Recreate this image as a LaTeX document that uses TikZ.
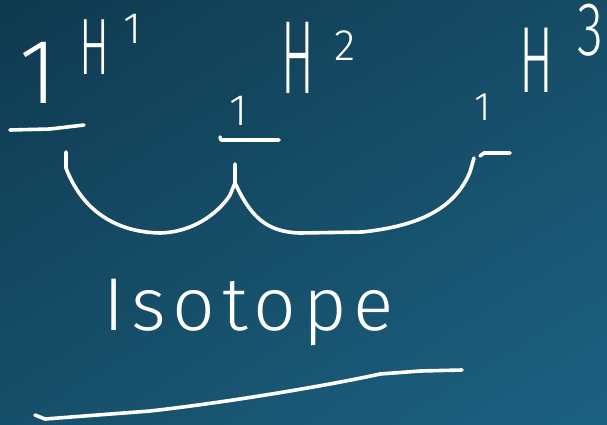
\documentclass[tikz,border=0pt]{standalone}
\usepackage{fontspec}
\usepackage{tikz}
\usetikzlibrary{shadings}
\newfontfamily\handfont{Fira Sans Light}
\newfontfamily\handwide{Fira Sans Light}[LetterSpace=9]
\newcommand{\slimglyph}[2][0.5]{\scalebox{#1}[1]{#2}}
\definecolor{boardtl}{HTML}{0F3A50}
\definecolor{boardtr}{HTML}{164C66}
\definecolor{boardbl}{HTML}{164F69}
\definecolor{boardbr}{HTML}{1C6182}
\tikzset{
  ink/.style={draw=white, line width=3.6pt, line cap=round, line join=round},
  glyph/.style={text=white, inner sep=0pt, anchor=base,
                font=\handfont\fontsize{#1}{#1}\selectfont},
}

\begin{document}
\begin{tikzpicture}[x=1pt, y=-1pt]
    % Board background
    \shade[upper left=boardtl, upper right=boardtr, lower left=boardbl, lower right=boardbr]
        (0,0) rectangle (607,424);
    \useasboundingbox (0,0) rectangle (607,424);

    % Atomic numbers and bars
    \node[glyph=92] (num1) at (38,103) {1};
    \node[glyph=44] (num2) at (239,125) {1};
    \node[glyph=40] (num3) at (483,120) {1};
    \draw[ink] (10,130) -- (50,129) -- (84,125);
    \draw[ink] (220,137) -- (221,140) -- (279,140);
    \draw[ink] (480,156) -- (484,153) -- (510,153);

    % Symbols with mass numbers
    \node[glyph=80] (sym1) at (95,74) {\slimglyph[0.56]{H}};
    \node[glyph=44] (mass1) at (133,43) {1};
    \node[glyph=104] (sym2) at (298,93) {\slimglyph[0.47]{H}};
    \node[glyph=44] (mass2) at (345,60) {2};
    \node[glyph=94] (sym3) at (536,92) {\slimglyph[0.54]{H}};
    \node[glyph=76] (mass3) at (590,55) {\slimglyph[0.7]{3}};

    % Brace joining the three
    \draw[ink] (66,152) -- (66,168)
        .. controls (80,205) and (110,232) .. (160,233)
        .. controls (198,232) and (222,208) .. (230,195)
        -- (235,183) -- (235,164);
    \draw[ink] (235,183)
        .. controls (250,215) and (265,232) .. (300,233)
        -- (362,232)
        .. controls (420,226) and (455,208) .. (470,172)
        -- (474,158);

    % Label and underline
    \node[text=white, inner sep=0pt, anchor=base west,
          font=\handwide\fontsize{75}{75}\selectfont] (word) at (103,330) {Isotope};
    \draw[ink] (35,415) -- (45,419) -- (150,411)
        .. controls (230,402) and (330,385) .. (380,374)
        -- (420,371) -- (462,370);
\end{tikzpicture}
\end{document}
